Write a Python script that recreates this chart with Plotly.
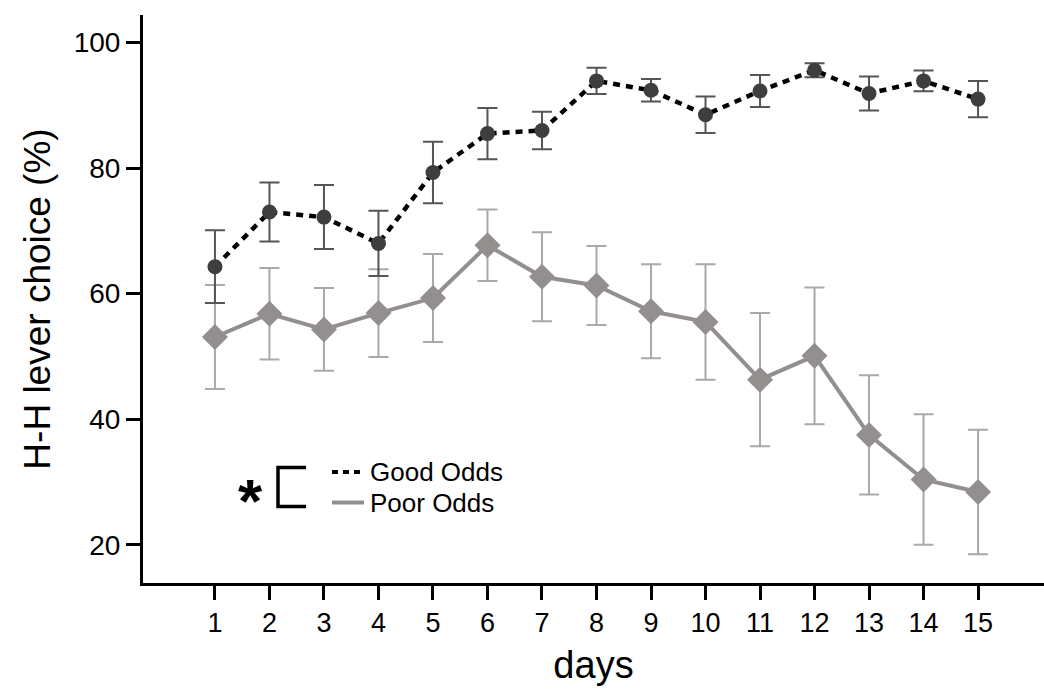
import plotly.graph_objects as go

days = list(range(1, 16))
good_mean = [64.3, 73.0, 72.2, 68.0, 79.3, 85.5, 86.0, 93.9, 92.4, 88.5, 92.3, 95.6, 91.9, 93.9, 91.0]
good_err = [5.8, 4.7, 5.1, 5.2, 4.9, 4.1, 3.0, 2.1, 1.8, 2.9, 2.55, 1.1, 2.7, 1.65, 2.9]
poor_mean = [53.1, 56.8, 54.3, 56.9, 59.3, 67.7, 62.7, 61.3, 57.2, 55.5, 46.3, 50.1, 37.5, 30.4, 28.4]
poor_err = [8.3, 7.3, 6.6, 7.0, 7.0, 5.7, 7.1, 6.3, 7.5, 9.2, 10.6, 10.9, 9.5, 10.4, 9.9]
y_ticks = [20, 40, 60, 80, 100]

FONT = "Liberation Sans, Arial, sans-serif"
GOOD_MARK = "#3e3e3e"
GOOD_ERR = "#555555"
POOR_COL = "#948f8f"
POOR_ERR = "#a9a9a9"

fig = go.Figure()
fig.add_trace(go.Scatter(
    x=days, y=poor_mean, mode="lines+markers", name="Poor Odds",
    line=dict(color=POOR_COL, width=4),
    marker=dict(symbol="diamond", size=20, color=POOR_COL),
    error_y=dict(type="data", array=poor_err, visible=True, color=POOR_ERR, thickness=2, width=10),
    showlegend=False,
))
fig.add_trace(go.Scatter(
    x=days, y=good_mean, mode="lines+markers", name="Good Odds",
    line=dict(color="black", width=4.5, dash="7px,6px"),
    marker=dict(symbol="circle", size=15, color=GOOD_MARK),
    error_y=dict(type="data", array=good_err, visible=True, color=GOOD_ERR, thickness=2, width=10),
    showlegend=False,
))

# manual legend (paper coords relative to the plot area)
W, H = 1044, 695
ml, mr, mt, mb = 143, 0, 15, 112
pw, ph = W - ml - mr, H - mt - mb

def px(xp):
    return (xp - ml) / pw

def py(yp):
    return 1 - (yp - mt) / ph

shapes = [
    dict(type="line", xref="paper", yref="paper", x0=px(332), x1=px(364), y0=py(472), y1=py(472),
         line=dict(color="black", width=4, dash="6px,5px")),
    dict(type="line", xref="paper", yref="paper", x0=px(332), x1=px(364), y0=py(502.5), y1=py(502.5),
         line=dict(color=POOR_COL, width=4)),
    dict(type="path", xref="paper", yref="paper",
         path=f"M {px(306)} {py(467.5)} L {px(278)} {py(467.5)} L {px(278)} {py(506.5)} L {px(306)} {py(506.5)}",
         line=dict(color="black", width=3.5)),
]
annotations = [
    dict(xref="paper", yref="paper", x=px(368), y=py(472), text="Good Odds", showarrow=False,
         xanchor="left", yanchor="middle", font=dict(family=FONT, size=26, color="black")),
    dict(xref="paper", yref="paper", x=px(368), y=py(502.5), text="Poor Odds", showarrow=False,
         xanchor="left", yanchor="middle", font=dict(family=FONT, size=26, color="black")),
    dict(xref="paper", yref="paper", x=px(250), y=py(500), text="<b>*</b>", showarrow=False,
         xanchor="center", yanchor="middle", font=dict(family=FONT, size=62, color="black")),
]

fig.update_layout(
    width=W, height=H,
    margin=dict(l=ml, r=mr, t=mt, b=mb),
    plot_bgcolor="white", paper_bgcolor="white",
    font=dict(family=FONT, color="black"),
    shapes=shapes, annotations=annotations,
    showlegend=False,
)
fig.update_xaxes(
    range=[-0.32, 16.21], tickmode="array", tickvals=days, ticktext=[str(d) for d in days],
    showgrid=False, zeroline=False, showline=True, linecolor="black", linewidth=3,
    ticks="outside", ticklen=14, tickwidth=3, tickcolor="black",
    tickfont=dict(family=FONT, size=27, color="black"),
    title=dict(text="days", font=dict(family=FONT, size=38, color="black"), standoff=14),
)
fig.update_yaxes(
    range=[13.9, 104.4], tickmode="array", tickvals=y_ticks, ticktext=[str(v) for v in y_ticks],
    showgrid=False, zeroline=False, showline=True, linecolor="black", linewidth=3,
    ticks="outside", ticklen=14, tickwidth=3, tickcolor="black",
    tickfont=dict(family=FONT, size=28, color="black"),
    title=dict(text="H-H lever choice (%)", font=dict(family=FONT, size=37, color="black"), standoff=12),
)

fig.write_html("out.html")
